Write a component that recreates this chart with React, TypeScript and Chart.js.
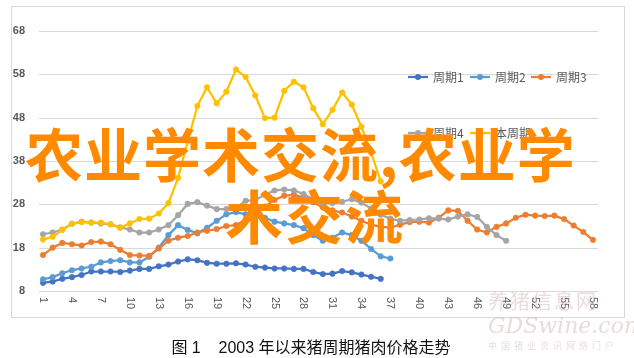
import React, { useEffect, useRef } from "react";
import { Chart, registerables } from "chart.js";

Chart.register(...registerables);

const categories = [
  "1", "2", "3", "4", "5", "6", "7", "8", "9", "10",
  "11", "12", "13", "14", "15", "16", "17", "18", "19", "20",
  "21", "22", "23", "24", "25", "26", "27", "28", "29", "30",
  "31", "32", "33", "34", "35", "36", "37", "38", "39", "40",
  "41", "42", "43", "44", "45", "46", "47", "48", "49", "50",
  "51", "52", "53", "54", "55", "56", "57", "58",
];

const xTickLabels = ["1", "4", "7", "10", "13", "16", "19", "22", "25", "28", "31", "34", "37", "40", "43", "46", "49", "52", "55", "58"];
const yTicks = [8, 18, 28, 38, 48, 58, 68];

const cycle1 = [
  9.9, 10.2, 10.8, 11.2, 11.7, 12.5, 12.5, 12.5, 12.4, 12.7,
  13.1, 13.1, 13.7, 14.1, 14.8, 15.3, 15.1, 14.5, 14.3, 14.3,
  14.4, 14.1, 13.6, 13.4, 13.2, 13.2, 13.1, 13.1, 12.4, 11.9,
  12.0, 12.6, 12.3, 11.8, 11.3, 10.8,
];
const cycle2 = [
  10.7, 11.2, 12.1, 12.8, 13.2, 13.6, 14.6, 14.9, 15.1, 14.6,
  14.6, 15.9, 18.0, 20.9, 23.2, 22.1, 21.3, 22.6, 24.2, 25.7,
  26.2, 25.7, 25.0, 24.9, 24.0, 23.6, 23.2, 22.5, 20.9, 19.6,
  20.3, 21.5, 20.9, 19.6, 17.7, 16.0, 15.5,
];
const cycle3 = [
  16.3, 18.0, 19.1, 18.8, 18.5, 19.3, 19.4, 18.8, 17.5, 16.3,
  16.2, 16.1, 17.8, 19.6, 20.3, 20.7, 21.5, 21.9, 22.3, 23.0,
  23.2, 24.5, 26.0, 27.5, 29.0, 30.0, 30.2, 29.6, 28.5, 27.3,
  26.6, 26.1, 25.2, 24.2, 23.3, 22.8, 22.6, 23.3, 23.9, 24.0,
  23.8, 24.9, 26.6, 26.5, 24.2, 22.2, 21.5, 22.8, 23.6, 24.9,
  25.6, 25.4, 25.3, 25.4, 24.6, 23.1, 21.6, 19.8,
];
const cycle4 = [
  21.1, 21.5, 22.2, 23.5, 24.0, 23.8, 23.6, 23.4, 22.7, 22.2,
  21.5, 21.5, 22.2, 23.2, 25.5, 28.1, 28.5, 27.7, 26.9, 26.9,
  27.2, 28.8, 29.0, 30.2, 31.2, 31.4, 31.2, 30.4, 29.2, 28.2,
  28.3, 28.6, 29.2, 28.4, 27.0, 25.6, 24.7, 24.2, 24.4, 24.5,
  24.8, 24.7, 24.5, 25.2, 25.7, 25.1, 22.8, 20.9, 19.6,
];
const currentCycle = [
  19.9, 20.5, 22.1, 23.5, 23.9, 23.8, 23.8, 23.4, 22.6, 23.6,
  24.6, 24.7, 25.9, 28.3, 34.1, 42.5, 50.7, 55.0, 51.3, 54.0,
  59.1, 57.4, 53.1, 47.9, 48.0, 54.2, 56.3, 55.0, 50.2, 46.5,
  49.8, 53.8, 51.0, 45.9, 40.0, 33.3,
];

const seriesNames = ["周期1", "周期2", "周期3", "周期4", "本周期"];
const seriesColors = ["#4472C4", "#5B9BD5", "#ED7D31", "#A5A5A5", "#FFC000"];

const CJK = '"Noto Sans CJK SC", "Liberation Sans", sans-serif';

const pad = (arr: number[]) => categories.map((_, i) => (i < arr.length ? arr[i] : null));

const decorPlugin = {
  id: "decor",
  beforeDraw(chart: any) {
    const ctx = chart.ctx;
    ctx.save();
    ctx.fillStyle = "#ffffff";
    ctx.fillRect(0, 0, chart.width, chart.height);
    ctx.strokeStyle = "#d9d9d9";
    ctx.lineWidth = 1;
    ctx.strokeRect(11.5, 6.5, 613, 311);
    ctx.restore();
  },
  beforeDatasetsDraw(chart: any) {
    const ctx = chart.ctx;
    const y = chart.scales.y;
    const area = chart.chartArea;
    ctx.save();
    ctx.strokeStyle = "#d9d9d9";
    ctx.lineWidth = 1;
    yTicks.forEach((v) => {
      const py = Math.round(y.getPixelForValue(v)) + 0.5;
      ctx.beginPath();
      ctx.moveTo(area.left - 4, py);
      ctx.lineTo(area.right + 5, py);
      ctx.stroke();
    });
    ctx.restore();
  },
  afterDraw(chart: any) {
    const ctx = chart.ctx;
    const x = chart.scales.x;
    const area = chart.chartArea;
    ctx.save();
    ctx.fillStyle = "#595959";
    ctx.font = '11px "Liberation Sans", sans-serif';
    ctx.textAlign = "left";
    ctx.textBaseline = "middle";
    xTickLabels.forEach((lab) => {
      const idx = categories.indexOf(lab);
      const px = x.getPixelForValue(idx);
      ctx.save();
      ctx.translate(px, area.bottom + 6);
      ctx.rotate(Math.PI / 2);
      ctx.fillText(lab, 0, 0);
      ctx.restore();
    });
    const items = [
      { i: 0, x: 408, y: 77 },
      { i: 1, x: 470, y: 77 },
      { i: 2, x: 531, y: 77 },
      { i: 3, x: 408, y: 133 },
      { i: 4, x: 470, y: 133 },
    ];
    ctx.font = "12px " + CJK;
    ctx.textBaseline = "middle";
    items.forEach((it) => {
      const c = seriesColors[it.i];
      ctx.strokeStyle = c;
      ctx.lineWidth = 2.25;
      ctx.beginPath();
      ctx.moveTo(it.x, it.y);
      ctx.lineTo(it.x + 20, it.y);
      ctx.stroke();
      ctx.fillStyle = c;
      ctx.beginPath();
      ctx.arc(it.x + 10, it.y, 3, 0, Math.PI * 2);
      ctx.fill();
      ctx.fillStyle = "#595959";
      ctx.fillText(seriesNames[it.i], it.x + 25, it.y);
    });
    ctx.restore();
  },
};

export default function App() {
  const ref = useRef<HTMLCanvasElement>(null);

  useEffect(() => {
    if (!ref.current) return;
    const all = [cycle1, cycle2, cycle3, cycle4, currentCycle];
    const chart = new Chart(ref.current, {
      type: "line",
      data: {
        labels: categories,
        datasets: all.map((d, i) => ({
          label: seriesNames[i],
          data: pad(d),
          borderColor: seriesColors[i],
          backgroundColor: seriesColors[i],
          pointBackgroundColor: seriesColors[i],
          pointBorderColor: seriesColors[i],
          pointRadius: 2.8,
          pointBorderWidth: 0.5,
          borderWidth: 2.25,
          tension: 0,
          fill: false,
          spanGaps: false,
          order: 4 - i,
        })),
      },
      options: {
        responsive: false,
        animation: false,
        devicePixelRatio: 1,
        layout: { padding: { left: 10, right: 41, top: 31, bottom: 37 } },
        plugins: {
          legend: { display: false },
          title: { display: false },
          tooltip: { enabled: false },
        },
        scales: {
          x: {
            type: "category",
            offset: false,
            grid: { display: false },
            border: { display: false },
            ticks: { display: false },
            afterFit: (s: any) => {
              s.height = 30;
            },
          },
          y: {
            min: 8,
            max: 68,
            grid: { display: false },
            border: { display: false },
            afterFit: (s: any) => {
              s.width = 33;
            },
            afterBuildTicks: (s: any) => {
              s.ticks = yTicks.map((v) => ({ value: v }));
            },
            ticks: {
              padding: 10,
              color: "#595959",
              font: { family: '"Liberation Sans", sans-serif', size: 11, weight: "bold" },
            },
          },
        },
      },
      plugins: [decorPlugin],
    } as any);
    return () => chart.destroy();
  }, []);

  return (
    <div style={{ position: "fixed", left: 0, top: 0, width: 634, height: 358, background: "#fff", overflow: "hidden" }}>
      <canvas ref={ref} width={634} height={358} style={{ position: "absolute", left: 0, top: 0, width: 634, height: 358 }} />
      <div style={{ position: "absolute", left: 488, top: 291, width: 140, fontFamily: CJK, color: "rgba(215,190,190,0.55)", lineHeight: 1 }}>
        <div style={{ fontSize: 20, letterSpacing: 2 }}>养猪信息网</div>
        <div style={{ fontSize: 22, fontStyle: "italic", fontFamily: '"DejaVu Serif", serif', marginTop: 4 }}>GDSwine.com</div>
        <div style={{ fontSize: 9, letterSpacing: 4, marginTop: 4 }}>中国猪业资讯网络门户</div>
      </div>
      <div style={{ position: "absolute", left: 0, width: 622, top: 334, textAlign: "center", fontFamily: '"Liberation Sans", "Noto Sans CJK SC", sans-serif', fontSize: 16, color: "#111", whiteSpace: "pre" }}>
        {"图 1    2003 年以来猪周期猪肉价格走势"}
      </div>
      <div style={{ position: "absolute", left: 25, top: 123, fontFamily: CJK, fontWeight: "bold", fontSize: 58, lineHeight: "58px", letterSpacing: 1, color: "#FF8A00", whiteSpace: "nowrap" }}>
        农业学术交流,农业学
      </div>
      <div style={{ position: "absolute", left: 225, top: 185, fontFamily: CJK, fontWeight: "bold", fontSize: 58, lineHeight: "58px", letterSpacing: 2, color: "#FF8A00", whiteSpace: "nowrap" }}>
        术交流
      </div>
    </div>
  );
}
